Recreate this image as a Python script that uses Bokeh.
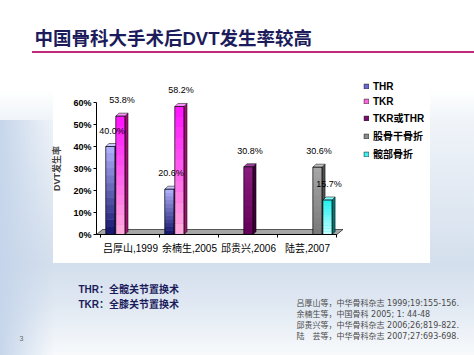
import numpy as np
from bokeh.plotting import figure
from bokeh.models import (FixedTicker, PrintfTickFormatter, Label, Legend, LegendItem, Range1d)
from bokeh.core.properties import value
from bokeh.embed import file_html
from bokeh.resources import INLINE

# ---------------- data ----------------
categories = ["吕厚山,1999", "余楠生,2005", "邱贵兴,2006", "陆芸,2007"]
series_names = ["THR", "TKR", "TKR或THR", "股骨干骨折", "髋部骨折"]
thr = [40.0, 20.6, None, None]
tkr = [53.8, 58.2, None, None]
tkr_or_thr = [None, None, 30.8, None]
femur_shaft = [None, None, None, 30.6]
hip_fracture = [None, None, None, 15.7]
y_ticks = [0, 10, 20, 30, 40, 50, 60]

title_text = "中国骨科大手术后DVT发生率较高"
y_label = "DVT发生率"
notes = ["THR：全髋关节置换术", "TKR：全膝关节置换术"]
refs = ["吕厚山等，中华骨科杂志 1999;19:155-156.",
        "余楠生等，中国骨科 2005; 1: 44-48",
        "邱贵兴等，中华骨科杂志 2006;26;819-822.",
        "陆　芸等，中华骨科杂志 2007;27:693-698."]
page_no = "3"

all_series = [thr, tkr, tkr_or_thr, femur_shaft, hip_fracture]

# colours: (bottom, top) gradient of front face, side, top face, legend
styles = [
    dict(bot="#12126a", top="#b4b4ff", side="#22226a", cap="#c8c8ff", leg="#6a6ad0"),
    dict(bot="#ffb0dc", top="#ff10ff", side="#a0106e", cap="#ff90ff", leg="#ff66dd"),
    dict(bot="#640058", top="#8c1c80", side="#3c0038", cap="#a040a0", leg="#7a0a6e"),
    dict(bot="#787878", top="#a8a8a8", side="#505050", cap="#c0c0c0", leg="#8c8c8c"),
    dict(bot="#c8ffff", top="#20eeee", side="#007878", cap="#80ffff", leg="#40f0f0"),
]

# ---------------- layout ----------------
W, H = 474, 355
AX_X, AX_Y = 96, 234       # pixel position of the chart origin
PX_X = 59.0                # px per category
PX_Y = 2.2                 # px per percent
x0 = -0.076                # left end of category axis
xs0 = x0 - AX_X / PX_X
ys0 = -(H - AX_Y) / PX_Y
xr = Range1d(xs0, xs0 + W / PX_X)
yr = Range1d(ys0, ys0 + H / PX_Y)

FONT = "Liberation Sans, Noto Sans CJK SC"

p = figure(width=W, height=H, x_range=xr, y_range=yr, output_backend="svg",
           toolbar_location=None, min_border=0, outline_line_color=None,
           background_fill_color=None, border_fill_color=None)
p.title.visible = False
p.styles = {"background":
            "linear-gradient(#c4287c,#c4287c) 32px 51px / 442px 2px no-repeat, "
            "linear-gradient(#ffffff,#ffffff) 53px 70px / 377px 193px no-repeat, "
            "linear-gradient(to right, rgba(196,212,234,0.95) 0px, rgba(255,255,255,0) 55px) 0px 120px / 60px 235px no-repeat, "
            "linear-gradient(to bottom, #ffffff 0px, #ffffff 90px, #f0f4f9 120px, #d4dfed 265px, #e0e8f2 305px, #f8fafc 355px)"}
p.xgrid.visible = False
p.ygrid.visible = False

n_cat = len(categories)

# y axis
ya = p.yaxis[0]
ya.fixed_location = x0
ya.ticker = FixedTicker(ticks=y_ticks)
ya.formatter = PrintfTickFormatter(format="%d%%")
ya.bounds = (0, max(y_ticks))
ya.major_tick_out = 3
ya.major_tick_in = 0
ya.minor_tick_out = 0
ya.minor_tick_in = 0
ya.major_label_standoff = 2
ya.major_label_text_font = FONT
ya.major_label_text_font_style = "bold"
ya.major_label_text_font_size = "9px"
ya.major_label_text_color = "#000000"
ya.axis_label = y_label
ya.axis_label_text_font = FONT
ya.axis_label_text_font_style = "bold"
ya.axis_label_text_font_size = "9px"
ya.axis_label_standoff = 8
ya.axis_line_color = "#000000"

# x axis
xa = p.xaxis[0]
xa.fixed_location = 0
xa.ticker = FixedTicker(ticks=[i + 0.5 for i in range(n_cat)],
                        minor_ticks=list(range(n_cat + 1)))
xa.major_label_overrides = {i + 0.5: c for i, c in enumerate(categories)}
xa.major_tick_out = 0
xa.major_tick_in = 0
xa.minor_tick_out = 3
xa.minor_tick_in = 0
xa.major_label_standoff = 5
xa.major_label_text_font = FONT
xa.major_label_text_font_size = "10px"
xa.major_label_text_color = "#000000"
xa.axis_line_color = "#000000"
xa.bounds = (x0, n_cat)

# 3D depth offsets in data units
fdx, fdy = 6 / PX_X, 5 / PX_Y
bdx, bdy = 3 / PX_X, 3 / PX_Y

# floor
p.patch(x=[x0, x0 + fdx, n_cat + fdx, n_cat], y=[0, fdy, fdy, 0],
        fill_color="#a6a6a6", line_color="#000000", line_width=0.6)

slot = 0.17
bw = 0.155
n_seg = 12


def mix(c1, c2, t):
    a = np.array([int(c1[i:i + 2], 16) for i in (1, 3, 5)], float)
    b = np.array([int(c2[i:i + 2], 16) for i in (1, 3, 5)], float)
    c = a + (b - a) * t
    return "#%02x%02x%02x" % tuple(int(round(v)) for v in c)


legend_items = []
label_x, label_y, label_t = [], [], []
for k, (name, vals, st) in enumerate(zip(series_names, all_series, styles)):
    idx = [i for i, v in enumerate(vals) if v is not None]
    xc = np.array([i + 0.5 + (k - 2) * slot for i in idx])
    top = np.array([vals[i] for i in idx], float)
    base = p.vbar(x=xc, top=top, bottom=0, width=bw, fill_color=st["leg"],
                  line_color="#000000", line_width=0.5)
    legend_items.append(LegendItem(label=name, renderers=[base]))
    sx, sb, stp, sc = [], [], [], []
    for j in range(n_seg):
        for x_, t_ in zip(xc, top):
            sx.append(x_)
            sb.append(t_ * j / n_seg)
            stp.append(t_ * (j + 1) / n_seg + (0.05 if j < n_seg - 1 else 0))
            sc.append(mix(st["bot"], st["top"], (j + 0.5) / n_seg))
    p.vbar(x=sx, bottom=sb, top=stp, width=bw, fill_color=sc, line_color=None)
    xs_side = [[x_ + bw / 2, x_ + bw / 2 + bdx, x_ + bw / 2 + bdx, x_ + bw / 2] for x_ in xc]
    ys_side = [[0, bdy, t_ + bdy, t_] for t_ in top]
    p.patches(xs=xs_side, ys=ys_side, fill_color=st["side"], line_color="#000000",
              line_width=0.5)
    xs_top = [[x_ - bw / 2, x_ - bw / 2 + bdx, x_ + bw / 2 + bdx, x_ + bw / 2] for x_ in xc]
    ys_top = [[t_, t_ + bdy, t_ + bdy, t_] for t_ in top]
    p.patches(xs=xs_top, ys=ys_top, fill_color=st["cap"], line_color="#000000",
              line_width=0.5)
    p.vbar(x=xc, top=top, bottom=0, width=bw, fill_color=None,
           line_color="#000000", line_width=0.5)
    label_x += list(xc + bdx / 2)
    label_y += list(top + bdy)
    label_t += ["%.1f%%" % t_ for t_ in top]

p.text(x=label_x, y=label_y, text=label_t, text_align="center",
       text_baseline="bottom", y_offset=-8, text_font=value(FONT),
       text_font_size="9px", text_color="#000000")

legend = Legend(items=legend_items, location=(363, H - 161), orientation="vertical",
                glyph_width=6, glyph_height=6, label_standoff=4, label_height=12,
                spacing=3, padding=0, margin=0, border_line_color=None,
                background_fill_alpha=0, label_text_font=FONT,
                label_text_font_style="bold", label_text_font_size="10px",
                label_text_color="#000000")
p.add_layout(legend)


def add_label(text, cx, cy, size, color, bold=False, font=FONT):
    p.add_layout(Label(x=cx, y=H - cy, x_units="screen", y_units="screen", text=text,
                       text_font=font, text_font_size=size, text_color=color,
                       text_font_style="bold" if bold else "normal",
                       text_baseline="middle", text_align="left"))


add_label(title_text, 34, 38, "18.5px", "#1c1c5c", bold=True)
for i, t in enumerate(notes):
    add_label(t, 78, 289 + 15 * i, "10px", "#1c1c5c", bold=True)
for i, t in enumerate(refs):
    add_label(t, 296, 303 + 11 * i, "8px", "#4a4a4a", font="DejaVu Sans, Noto Sans CJK SC")
add_label(page_no, 19, 338, "7px", "#666666")

open("out.html", "w").write(file_html(p, INLINE))
